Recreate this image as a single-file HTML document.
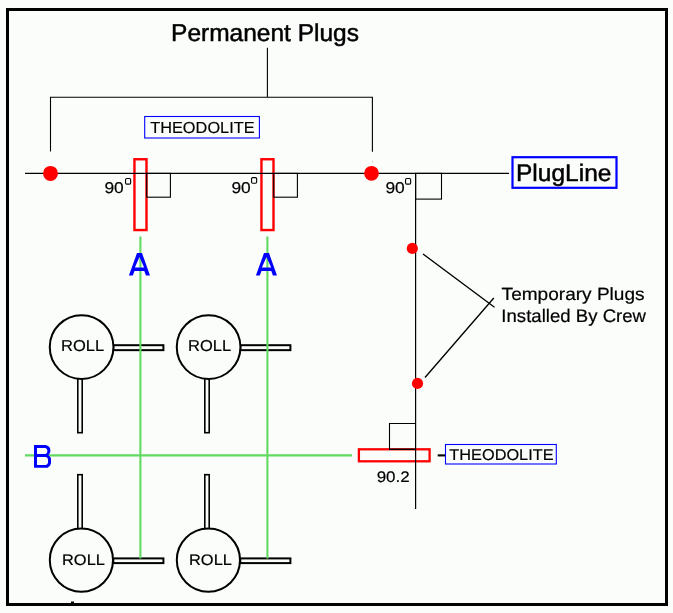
<!DOCTYPE html>
<html>
<head>
<meta charset="utf-8">
<title>Plug Line Theodolite Layout</title>
<style>
html,body{margin:0;padding:0;background:#fbfdfb;}
body{width:673px;height:613px;overflow:hidden;}
svg{display:block;will-change:transform;}
text{font-family:"Liberation Sans",sans-serif;fill:#000;font-size:100px;text-rendering:geometricPrecision;}
.b{stroke:#000;stroke-width:1.2px;}
</style>
</head>
<body>
<svg width="673" height="613" viewBox="0 0 673 613">
<!-- frame -->
<rect x="7.5" y="9.5" width="659" height="595" fill="none" stroke="#000" stroke-width="3"/>
<rect x="71" y="601.5" width="3" height="1.5" fill="#000"/>

<!-- title + bracket -->
<text class="b" style="stroke-width:2px" transform="translate(171.04,40.50) scale(0.2450,0.2430)">Permanent Plugs</text>
<path d="M267.4,47.8 V97.2 M50.5,151.6 V97.2 H372.4 V151.7" fill="none" stroke="#000" stroke-width="1.1"/>
<rect x="372" y="161" width="1" height="1" fill="#bbb"/>

<!-- THEODOLITE box top -->
<rect x="144.7" y="116.5" width="114.7" height="21.5" fill="none" stroke="#0000ff" stroke-width="1.1"/>
<text class="b" transform="translate(150.17,132.50) scale(0.1635,0.1590)">THEODOLITE</text>

<!-- red theodolite rects (vertical) -->
<rect x="134.45" y="159.25" width="12.05" height="70.8" fill="none" stroke="#ff0000" stroke-width="2.4"/>
<rect x="261.45" y="159.25" width="12.05" height="70.8" fill="none" stroke="#ff0000" stroke-width="2.4"/>

<!-- main plug line -->
<path d="M25,173.4 H509" stroke="#000" stroke-width="1.2"/>

<!-- right-angle squares -->
<rect x="146.7" y="173.4" width="23.7" height="23.8" fill="none" stroke="#000" stroke-width="1.1"/>
<rect x="273.7" y="173.4" width="23.7" height="23.8" fill="none" stroke="#000" stroke-width="1.1"/>
<rect x="415.6" y="173.4" width="25.9" height="25.7" fill="none" stroke="#000" stroke-width="1.1"/>

<!-- 90 degree labels -->
<text class="b" transform="translate(104.43,192.50) scale(0.1735,0.1570)">90</text>
<text class="b" transform="translate(231.43,192.50) scale(0.1735,0.1570)">90</text>
<text class="b" transform="translate(385.43,192.50) scale(0.1735,0.1570)">90</text>
<g fill="none" stroke="#000" stroke-width="1.1">
<rect x="125.55" y="178.55" width="5.1" height="5.6" rx="1.2"/>
<rect x="251.55" y="177.65" width="5.1" height="5.6" rx="1.2"/>
<rect x="405.55" y="178.55" width="5.1" height="5.6" rx="1.2"/>
</g>

<!-- permanent plugs (red dots) -->
<circle cx="50.5" cy="173.4" r="7.5" fill="#ff0000"/>
<circle cx="371.5" cy="173.3" r="7.4" fill="#ff0000"/>

<!-- PlugLine box -->
<rect x="512.5" y="157.2" width="104" height="30.6" fill="none" stroke="#0000ff" stroke-width="2.2"/>
<text class="b" style="stroke-width:2px" transform="translate(515.94,180.50) scale(0.2456,0.2390)">PlugLine</text>

<!-- temporary plugs -->
<path d="M423,254 L494.5,307.3 M425,377.5 L493.8,298" stroke="#000" stroke-width="1.35" fill="none"/>
<text class="b" transform="translate(501.62,299.50) scale(0.1905,0.1770)">Temporary Plugs</text>
<text class="b" transform="translate(501.33,321.50) scale(0.1860,0.1820)">Installed By Crew</text>

<!-- ROLL units -->
<g fill="none" stroke="#000">
  <rect x="113.3" y="345.2" width="50.1" height="4.95" stroke-width="2"/>
  <rect x="77.8" y="377" width="4.4" height="55.7" stroke-width="1.6"/>
  <circle cx="81.6" cy="347.1" r="31.85" stroke-width="2" fill="#fbfdfb"/>
  <rect x="240.3" y="345.2" width="50.1" height="4.95" stroke-width="2"/>
  <rect x="204.8" y="377" width="4.4" height="55.7" stroke-width="1.6"/>
  <circle cx="208.6" cy="347.1" r="31.85" stroke-width="2" fill="#fbfdfb"/>
  <rect x="113.3" y="558.4" width="50.1" height="4.7" stroke-width="2"/>
  <rect x="77.8" y="474.7" width="4.4" height="56" stroke-width="1.6"/>
  <circle cx="81.4" cy="560.1" r="31.6" stroke-width="2" fill="#fbfdfb"/>
  <rect x="240.3" y="558.4" width="50.1" height="4.7" stroke-width="2"/>
  <rect x="204.8" y="474.7" width="4.4" height="56" stroke-width="1.6"/>
  <circle cx="208.4" cy="560.1" r="31.6" stroke-width="2" fill="#fbfdfb"/>
</g>
<text class="b" transform="translate(61.08,350.50) scale(0.1648,0.1580)">ROLL</text>
<text class="b" transform="translate(188.08,350.50) scale(0.1648,0.1580)">ROLL</text>
<text class="b" transform="translate(61.98,564.50) scale(0.1644,0.1510)">ROLL</text>
<text class="b" transform="translate(188.98,564.50) scale(0.1644,0.1510)">ROLL</text>

<!-- green sight lines -->
<path d="M140.4,236.6 V558.5 M267.4,236.6 V558.5 M25,455.4 H352" stroke="#62da62" stroke-width="2.1" fill="none"/>

<!-- A / B letters -->
<g fill="#0000ff" fill-rule="evenodd">
<path d="M128.9,275.6 L137,253 H142 L150,275.6 H145.9 L144.3,271 H134.5 L132.8,275.6 Z M134.9,267.6 H144.1 L139.5,257.1 Z"/>
<path transform="translate(127,0)" d="M128.9,275.6 L137,253 H142 L150,275.6 H145.9 L144.3,271 H134.5 L132.8,275.6 Z M134.9,267.6 H144.1 L139.5,257.1 Z"/>
<path d="M34,445 H46 L48.5,446.2 L50,448 L50.3,450 V452 L49.3,454 L48.3,455.2 L50,456.5 L51,458.5 V463.3 L50,465.8 L47.5,467.8 H34 Z M37,448 H45.3 L46.8,449 L47.3,450.2 V452 L46.5,453.4 L45.3,454 H37 Z M37,456.9 H45.8 L47.3,457.8 L48,459.2 V462.8 L47.2,464.2 L46,464.9 H37 Z"/>
</g>


<!-- bottom theodolite -->
<rect x="358.9" y="449.3" width="70.7" height="12" fill="none" stroke="#ff0000" stroke-width="2.3"/>
<path d="M389.5,449.3 V423.5 H415.6" fill="none" stroke="#000" stroke-width="1.1"/>
<path d="M389,449.3 H415.6" fill="none" stroke="#000" stroke-width="1.4"/>
<path d="M415.6,173 V509" stroke="#000" stroke-width="1.2"/>
<circle cx="412.3" cy="248.4" r="5.6" fill="#ff0000"/>
<circle cx="417.5" cy="383.4" r="5.6" fill="#ff0000"/>
<text class="b" transform="translate(376.65,481.50) scale(0.1703,0.1530)">90.2</text>
<path d="M437.7,455.4 H445" stroke="#000" stroke-width="2.1"/>
<rect x="445.5" y="444.5" width="110.8" height="19.5" fill="none" stroke="#0000ff" stroke-width="1.1"/>
<text class="b" transform="translate(449.37,459.50) scale(0.1630,0.1560)">THEODOLITE</text>
</svg>
</body>
</html>
